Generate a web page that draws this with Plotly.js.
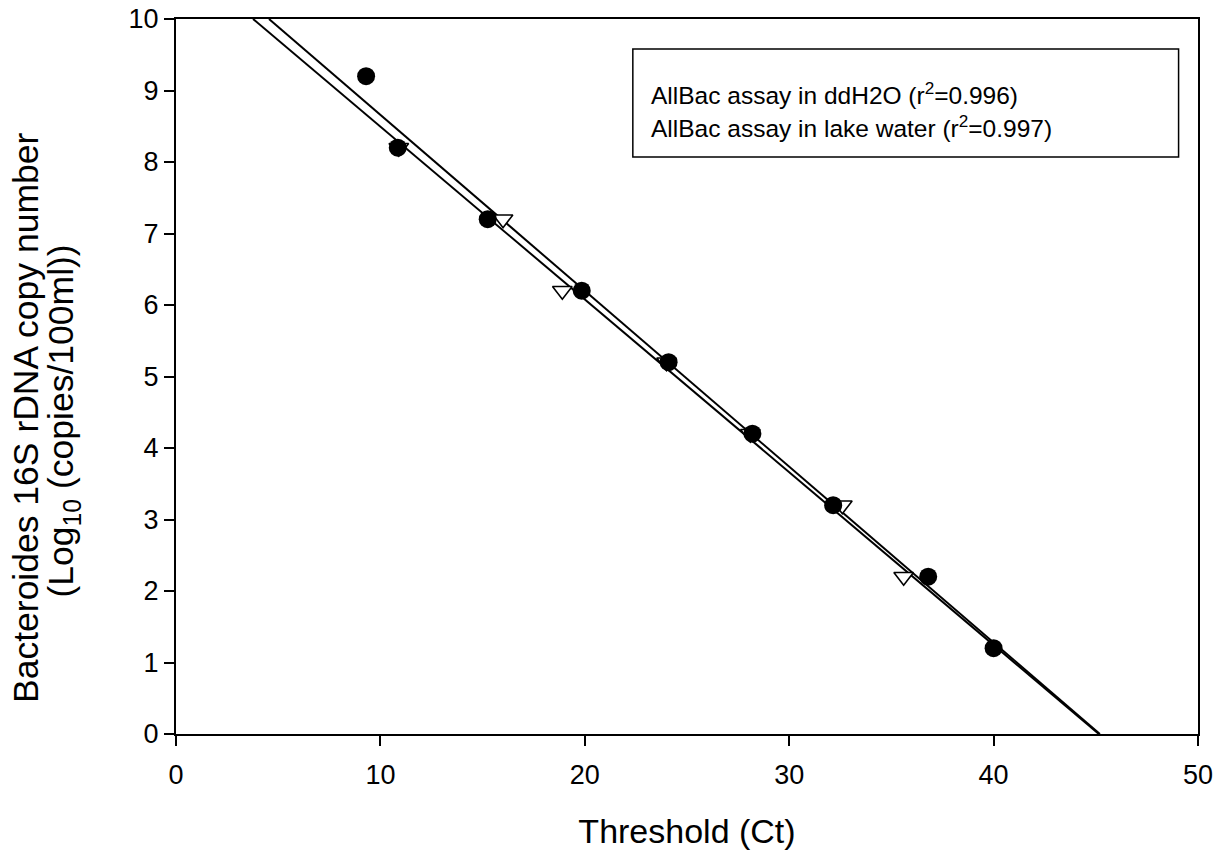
<!DOCTYPE html>
<html>
<head>
<meta charset="utf-8">
<script src="https://cdn.plot.ly/plotly-3.0.1.min.js"></script>
<style>html,body{margin:0;padding:0;background:#fff;}#chart{width:1230px;height:860px;}</style>
</head>
<body>
<div id="chart"></div>
<script>
// ddH2O series (filled circles)
const ddh2oCt = [9.3, 10.85, 15.25, 19.85, 24.1, 28.2, 32.15, 36.8, 40.0];
const ddh2oLog = [9.2, 8.2, 7.2, 6.2, 5.2, 4.2, 3.2, 2.2, 1.2];
// lake water series (open down-triangles)
const lakeCt = [10.9, 16.0, 18.9, 24.0, 28.1, 32.6, 35.6];
const lakeLog = [8.2, 7.2, 6.2, 5.2, 4.2, 3.2, 2.2];
// regression line endpoints
const fitAx = [3.77, 45.15];
const fitAy = [10, 0];
const fitBx = [4.55, 45.2];
const fitBy = [10, 0];
const xTicks = [0, 10, 20, 30, 40, 50];
const yTicks = [0, 1, 2, 3, 4, 5, 6, 7, 8, 9, 10];
const legendLines = ["AllBac assay in ddH2O (r<sup>2</sup>=0.996)", "AllBac assay in lake water (r<sup>2</sup>=0.997)"];
const yTitleLines = ['Bacteroides 16S rDNA copy number', '(Log<sub>10</sub> (copies/100ml))'];

const font = "Liberation Sans, Arial, sans-serif";
const traces = [
  {x: fitAx, y: fitAy, mode: 'lines', line: {color: '#000', width: 2}, hoverinfo: 'skip', cliponaxis: true},
  {x: fitBx, y: fitBy, mode: 'lines', line: {color: '#000', width: 2}, hoverinfo: 'skip', cliponaxis: true},
  {x: lakeCt, y: lakeLog, mode: 'markers', marker: {symbol: 'triangle-down', size: 17, color: '#fff', line: {color: '#000', width: 1.6}}},
  {x: ddh2oCt, y: ddh2oLog, mode: 'markers', marker: {symbol: 'circle', size: 18, color: '#000', line: {color: '#000', width: 0}}}
];
const axisCommon = {
  showgrid: false, zeroline: false, showline: true, linecolor: '#000', linewidth: 2,
  mirror: true, ticks: 'outside', ticklen: 10, tickwidth: 2, tickcolor: '#000',
  tickfont: {family: font, size: 27, color: '#000'}
};
const yTitleAnns = yTitleLines.map((t, i) => ({
  xref: 'paper', yref: 'paper', x: 0, y: 0.442 - i * 0.005, xshift: i === 0 ? -150 : -113,
  xanchor: 'center', yanchor: 'middle', textangle: -90, text: t, showarrow: false,
  font: {family: font, size: 35.5, color: '#000'}
}));
const layout = {
  width: 1230, height: 860,
  margin: {l: 176, r: 32, t: 19, b: 126},
  paper_bgcolor: '#fff', plot_bgcolor: '#fff',
  showlegend: false,
  xaxis: Object.assign({}, axisCommon, {
    range: [0, 50], tickvals: xTicks, ticktext: xTicks.map(String), ticklabelstandoff: 6,
    title: {text: 'Threshold (Ct)', font: {family: font, size: 34, color: '#000'}, standoff: 30}
  }),
  yaxis: Object.assign({}, axisCommon, {
    range: [0, 10], tickvals: yTicks, ticktext: yTicks.map(String)
  }),
  shapes: [{type: 'rect', xref: 'paper', yref: 'paper', x0: 0.447, x1: 0.981, y0: 0.807, y1: 0.958, line: {color: '#000', width: 1.5}, fillcolor: '#fff', layer: 'above'}],
  annotations: legendLines.map((t, i) => ({
    xref: 'paper', yref: 'paper', x: 0.463, y: 0.896 - i * 0.046, xanchor: 'left', yanchor: 'middle',
    text: t, showarrow: false, font: {family: font, size: 24.5, color: '#000'}
  })).concat(yTitleAnns)
};
Plotly.newPlot('chart', traces, layout, {displayModeBar: false, staticPlot: true});
</script>
</body>
</html>
